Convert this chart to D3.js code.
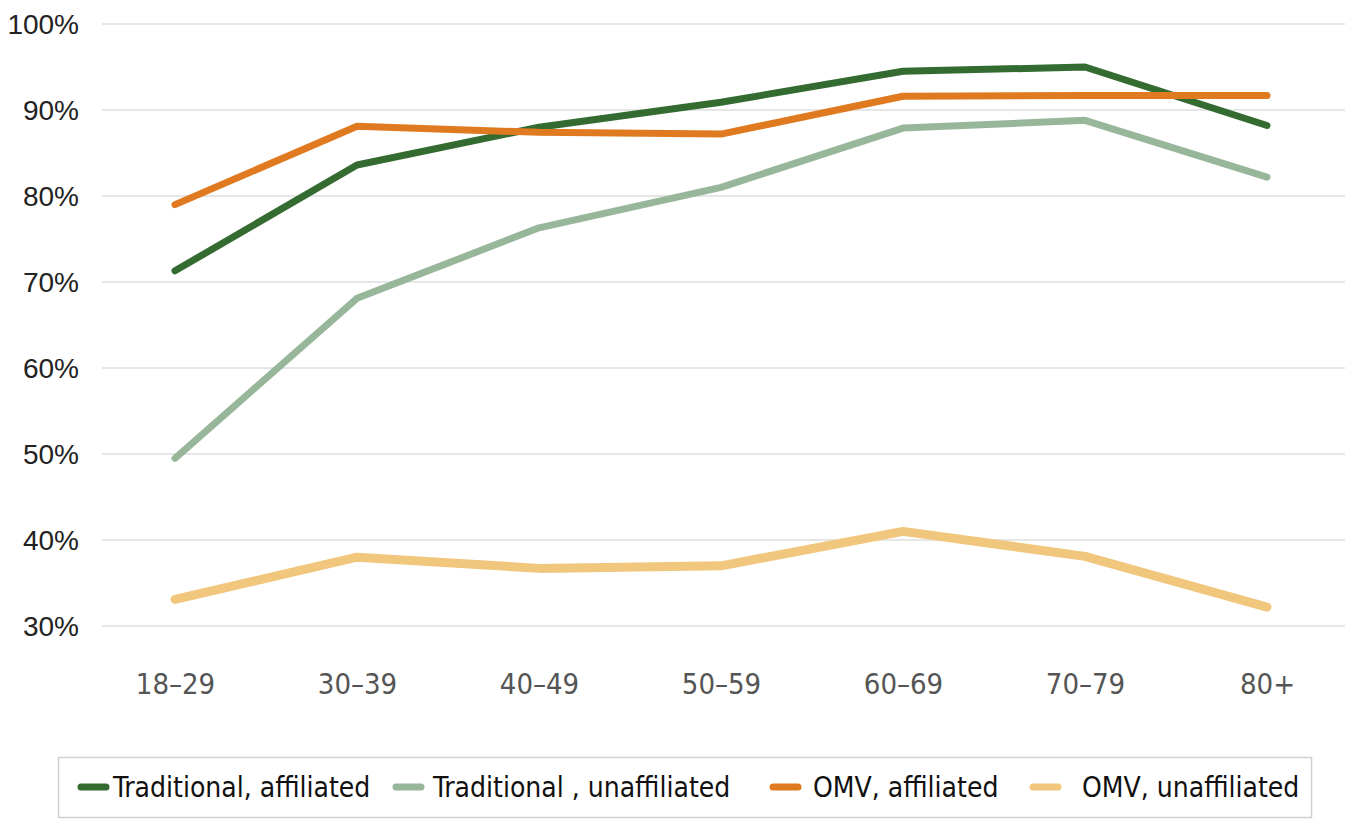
<!DOCTYPE html>
<html>
<head>
<meta charset="utf-8">
<script src="https://cdn.jsdelivr.net/npm/d3@7"></script>
<style>
  body { margin: 0; background: #fff; }
  svg { display: block; }
</style>
</head>
<body>
<div id="app"></div>
<script>
// categories + series
let ageGroups = ['18–29', '30–39', '40–49', '50–59', '60–69', '70–79', '80+'];
let tradAffiliated = [71.3, 83.6, 88.0, 90.9, 94.5, 95.0, 88.2];
let tradUnaffiliated = [49.5, 68.1, 76.3, 81.0, 87.9, 88.8, 82.2];
let omvAffiliated = [79.0, 88.1, 87.4, 87.2, 91.6, 91.7, 91.7];
let omvUnaffiliated = [33.1, 38.0, 36.7, 37.0, 41.0, 38.1, 32.2];
let yTicks = [30, 40, 50, 60, 70, 80, 90, 100];

let seriesNames = ['Traditional, affiliated', 'Traditional , unaffiliated', 'OMV, affiliated', 'OMV, unaffiliated'];
let seriesData = [tradAffiliated, tradUnaffiliated, omvAffiliated, omvUnaffiliated];
let seriesColors = ['#346b31', '#98b79a', '#e07a20', '#f1c67d'];
let seriesWidths = [7, 7, 7, 9];

let width = 1348;
let height = 821;
let condensed = '"DejaVu Sans Condensed", "Liberation Sans Narrow", sans-serif';

let svg = d3.select('#app').append('svg')
    .attr('width', width)
    .attr('height', height)
    .style('background', '#fff')

let xScale = d3.scalePoint()
               .domain(ageGroups)
               .range([175, 1267])

let yScale = d3.scaleLinear()
               .domain([30, 100])
               .range([626, 24])

// gridlines
svg.append('g')
  .selectAll('line')
  .data(yTicks)
  .enter()
  .append('line')
    .attr('x1', 102)
    .attr('x2', 1345)
    .attr('y1', d => yScale(d))
    .attr('y2', d => yScale(d))
    .style('stroke', '#e6e6e6')
    .style('stroke-width', 2)

// y axis labels
let yAxis = d3.axisLeft(yScale)
              .tickValues(yTicks)
              .tickFormat(d => d + '%')
              .tickSize(0)
              .tickPadding(0)

let yGuide = svg.append('g')
  .attr('transform', 'translate(79, 0)')
  .call(yAxis)
yGuide.select('.domain').remove()
yGuide.selectAll('text')
  .style('font-family', '"Liberation Sans", Arial, sans-serif')
  .style('font-size', '28px')
  .style('fill', '#222')
  .attr('dy', '0.35em')

// x axis labels
let xAxis = d3.axisBottom(xScale)
              .tickSize(0)
              .tickPadding(0)

let xGuide = svg.append('g')
  .attr('transform', 'translate(0, 684)')
  .call(xAxis)
xGuide.select('.domain').remove()
xGuide.selectAll('text')
  .style('font-family', condensed)
  .style('font-size', '29px')
  .style('fill', '#555')
  .attr('dy', '0.35em')

// lines
let line = d3.line()
             .x((d, i) => xScale(ageGroups[i]))
             .y(d => yScale(d))

svg.append('g')
  .selectAll('path')
  .data(seriesData)
  .enter()
  .append('path')
    .attr('d', d => line(d))
    .style('fill', 'none')
    .style('stroke', (d, i) => seriesColors[i])
    .style('stroke-width', (d, i) => seriesWidths[i])
    .style('stroke-linecap', 'round')
    .style('stroke-linejoin', 'round')

// legend
let legendX = [78, 393, 770, 1030];
let legendTextGap = [35, 40, 43, 52];

svg.append('rect')
  .attr('x', 58.5)
  .attr('y', 757.5)
  .attr('width', 1253)
  .attr('height', 60)
  .style('fill', '#fff')
  .style('stroke', '#d0d0d0')
  .style('stroke-width', 1.5)

let legend = svg.append('g')
  .selectAll('g')
  .data(seriesNames)
  .enter()
  .append('g')
    .attr('transform', (d, i) => `translate(${legendX[i]}, 787)`)

legend.append('line')
  .attr('x1', 3)
  .attr('x2', 28)
  .style('stroke', (d, i) => seriesColors[i])
  .style('stroke-width', 7)
  .style('stroke-linecap', 'round')

legend.append('text')
  .attr('x', (d, i) => legendTextGap[i])
  .attr('dy', '0.35em')
  .text(d => d)
  .style('font-family', condensed)
  .style('font-size', '28px')
  .style('fill', '#111')
</script>
</body>
</html>
